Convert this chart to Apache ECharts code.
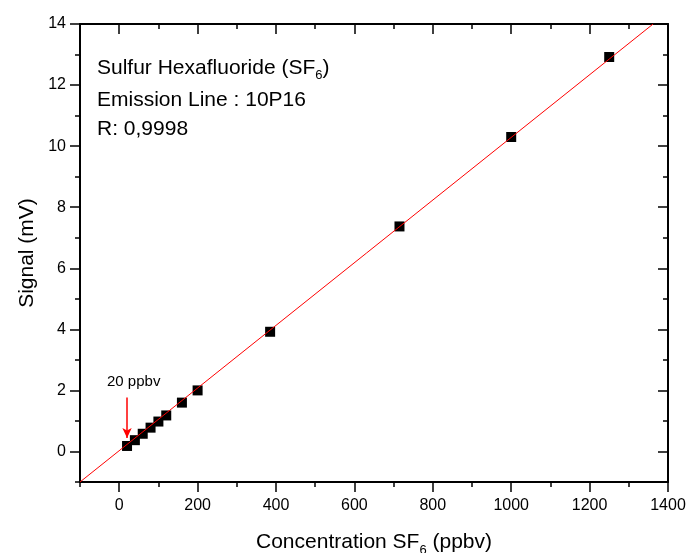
<!DOCTYPE html>
<html><head><meta charset="utf-8">
<script src="https://cdn.jsdelivr.net/npm/echarts@6/dist/echarts.min.js"></script>
<style>html,body{margin:0;padding:0;background:#fff}#c{width:688px;height:553px}</style>
</head><body><div id="c"></div>
<script>
var concentration = [20, 40, 60, 80, 100, 120, 160, 200, 385, 715, 1000, 1250];
var signal = [0.18, 0.37, 0.58, 0.78, 0.98, 1.18, 1.60, 2.00, 3.92, 7.37, 10.30, 12.92];
var fitLine = [[-100, -1.0], [1362, 14.0]];
var xMajorTicks = [0, 200, 400, 600, 800, 1000, 1200, 1400];
var yMajorTicks = [0, 2, 4, 6, 8, 10, 12, 14];

var font = 'Liberation Sans, Arial, sans-serif';
var pts = concentration.map(function (c, i) { return [c, signal[i]]; });
var chart = echarts.init(document.getElementById('c'));
var lineStyle = { color: '#000', width: 2 };
var tickStyle = { color: '#000', width: 1.5 };
function plain(v) { return String(v); }

function xAx(pos, major, inside, showLine, labels) {
  var a = {
    type: 'value', min: -100, max: 1400, interval: 100, position: pos,
    axisLine: { show: showLine, onZero: false, lineStyle: lineStyle },
    axisTick: { inside: inside, length: major ? 10 : 5, lineStyle: tickStyle },
    splitLine: { show: false },
    axisLabel: { show: false }
  };
  if (major) a.axisTick.customValues = xMajorTicks;
  if (labels) {
    a.axisLabel = { show: true, customValues: xMajorTicks, formatter: plain, fontFamily: font, fontSize: 16, color: '#000', margin: 16 };
    a.name = '{a|Concentration SF}{s|6}{a| (ppbv)}';
    a.nameLocation = 'middle';
    a.nameGap = 46;
    a.nameTextStyle = { rich: { a: { fontFamily: font, fontSize: 21, color: '#000' }, s: { fontFamily: font, fontSize: 13, color: '#000', padding: [16, 0, 0, 0] } } };
  }
  return a;
}
function yAx(pos, major, inside, showLine, labels) {
  var a = {
    type: 'value', min: -1, max: 14, interval: 1, position: pos,
    axisLine: { show: showLine, onZero: false, lineStyle: lineStyle },
    axisTick: { inside: inside, length: major ? 10 : 5, lineStyle: tickStyle },
    splitLine: { show: false },
    axisLabel: { show: false }
  };
  if (major) a.axisTick.customValues = yMajorTicks;
  if (labels) {
    a.axisLabel = { show: true, customValues: yMajorTicks, formatter: plain, fontFamily: font, fontSize: 16, color: '#000', margin: 14 };
    a.name = 'Signal (mV)';
    a.nameLocation = 'middle';
    a.nameGap = 40;
    a.nameRotate = 90;
    a.nameTextStyle = { fontFamily: font, fontSize: 21, color: '#000' };
  }
  return a;
}

chart.setOption({
  animation: false,
  grid: { left: 80, right: 20, top: 24, bottom: 71, containLabel: false, outerBoundsMode: 'none' },
  xAxis: [
    xAx('bottom', true, false, true, true),
    xAx('bottom', false, false, false, false),
    xAx('top', true, true, true, false),
    xAx('top', false, true, false, false)
  ],
  yAxis: [
    yAx('left', true, false, true, true),
    yAx('left', false, false, false, false),
    yAx('right', true, true, true, false),
    yAx('right', false, true, false, false)
  ],
  series: [{
    type: 'scatter', data: pts, symbol: 'rect', symbolSize: 10,
    itemStyle: { color: '#000', opacity: 1 }, z: 2
  }, {
    type: 'line', data: fitLine, symbol: 'none', clip: true,
    lineStyle: { color: '#ff0000', width: 1 }, z: 3,
    markLine: {
      silent: true, symbol: ['none', 'arrow'], symbolSize: [7, 10],
      lineStyle: { color: '#ff0000', width: 1.5, type: 'solid' },
      label: { show: false },
      data: [[{ coord: [20, 1.77] }, { coord: [20, 0.44] }]]
    }
  }],
  graphic: [
    { type: 'text', left: 97, top: 58, style: { text: '{a|Sulfur Hexafluoride (SF}{s|6}{a|)}', rich: { a: { fontFamily: font, fontSize: 21, fill: '#000' }, s: { fontFamily: font, fontSize: 13, fill: '#000', padding: [14, 0, 0, 0] } } } },
    { type: 'text', left: 97, top: 90, style: { text: 'Emission Line : 10P16', fontFamily: font, fontSize: 21, fill: '#000' } },
    { type: 'text', left: 97, top: 119, style: { text: 'R: 0,9998', fontFamily: font, fontSize: 21, fill: '#000' } },
    { type: 'text', left: 107, top: 374, style: { text: '20 ppbv', fontFamily: font, fontSize: 15, fill: '#000' } }
  ]
});
</script></body></html>
